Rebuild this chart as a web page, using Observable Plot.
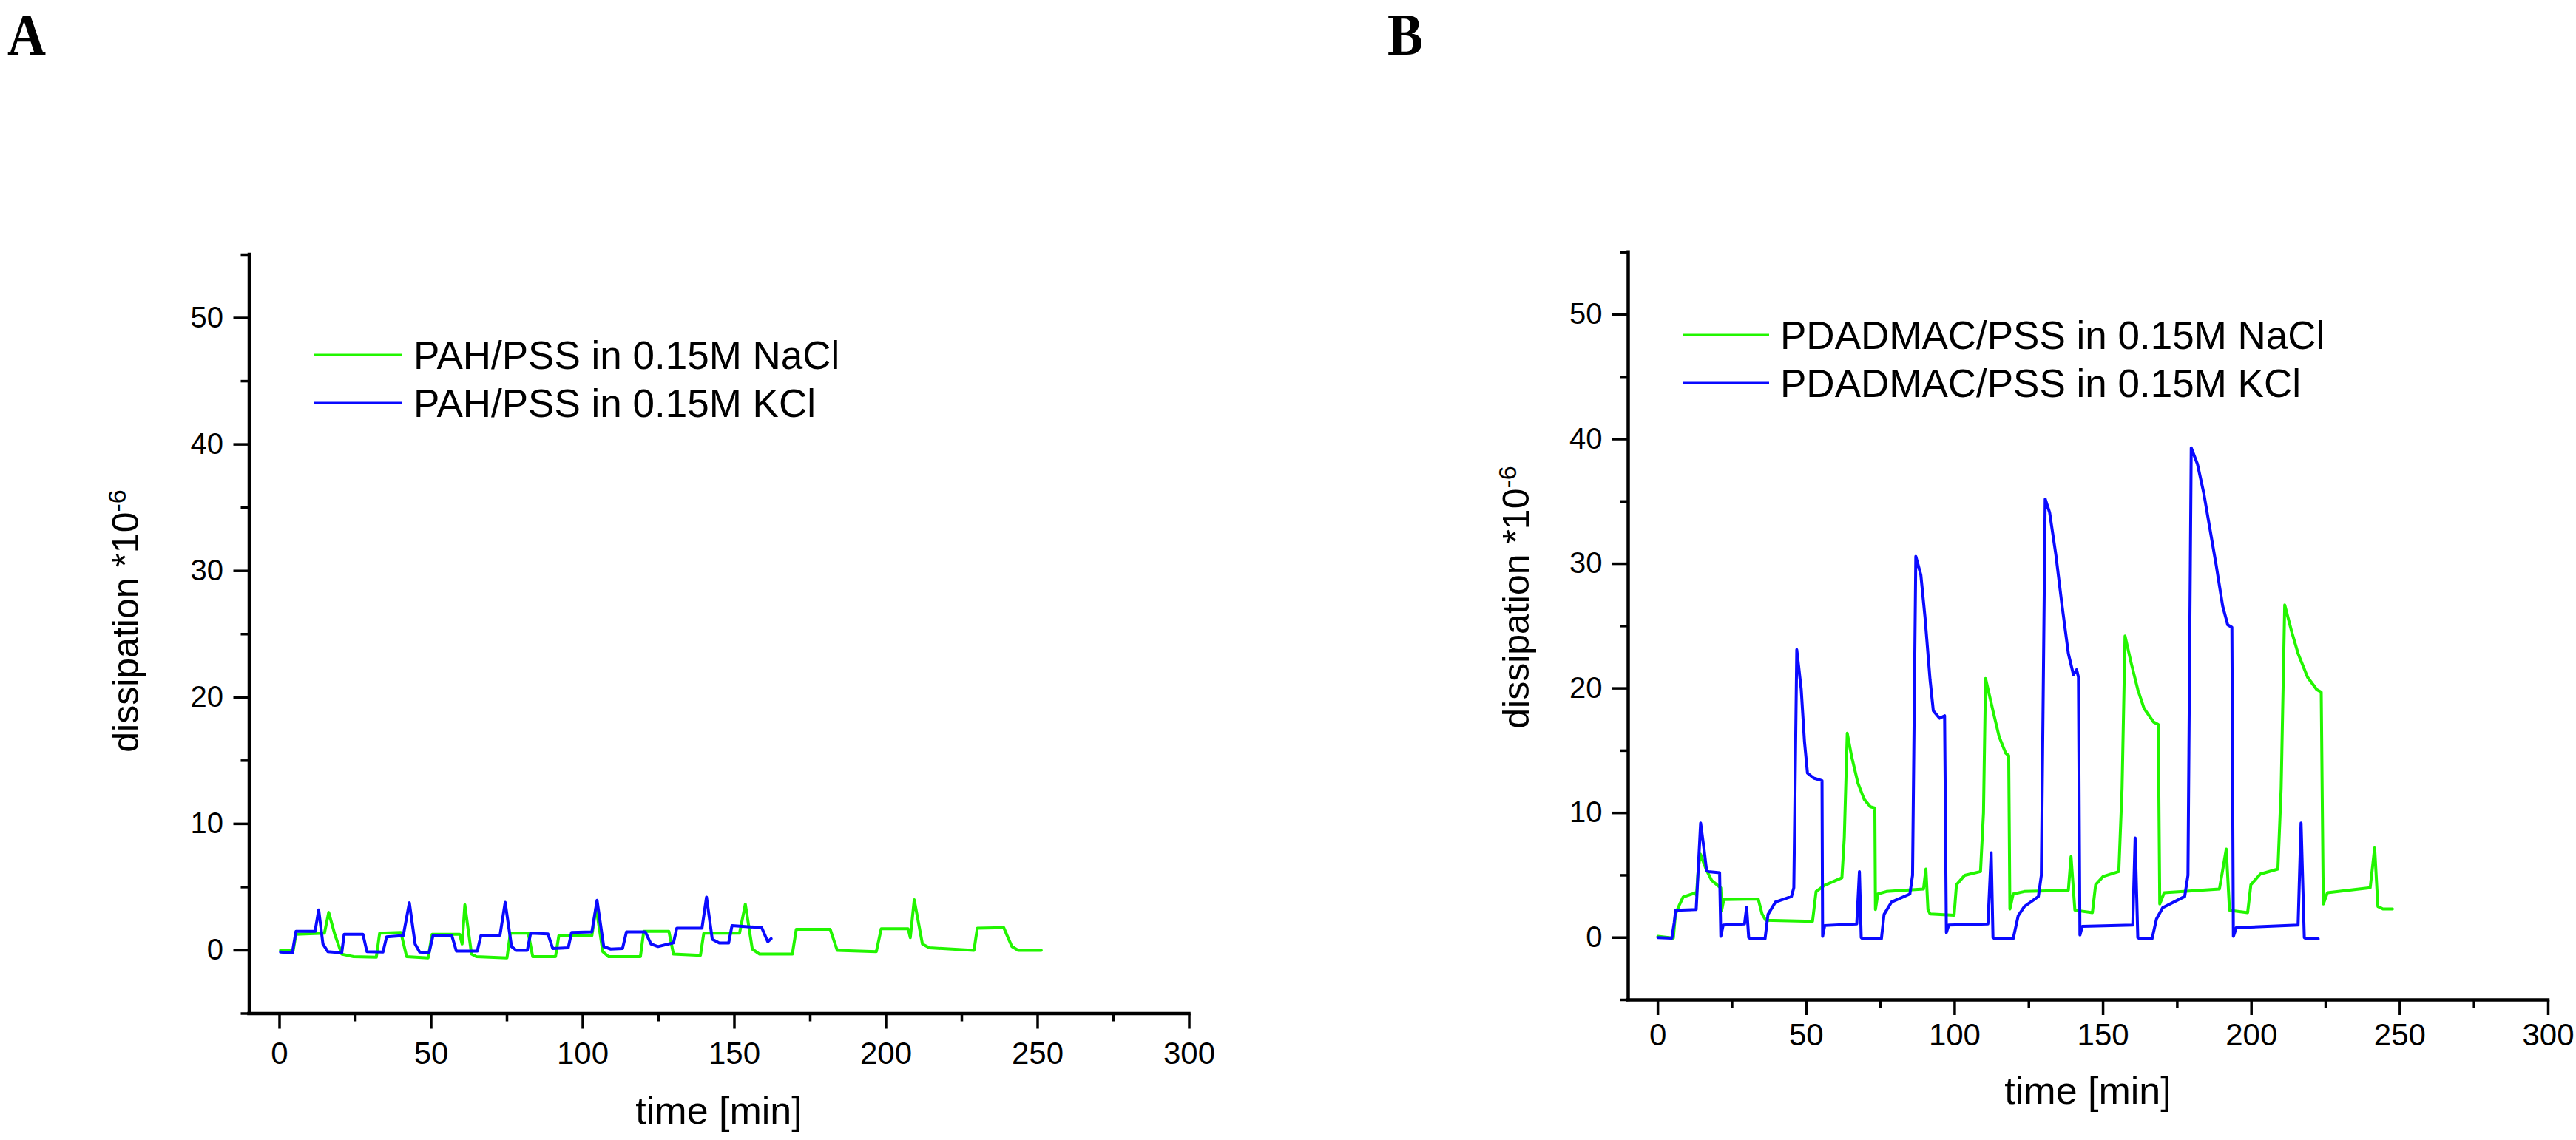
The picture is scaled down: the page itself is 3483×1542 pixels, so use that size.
<!DOCTYPE html>
<html>
<head>
<meta charset="utf-8">
<script src="https://cdn.jsdelivr.net/npm/d3@7"></script>
<script src="https://cdn.jsdelivr.net/npm/@observablehq/plot@0.6"></script>
<style>
  html, body { margin: 0; padding: 0; background: #fff; }
  #page { position: relative; width: 3483px; height: 1542px; overflow: hidden; background: #fff; }
  #pa, #pb { position: absolute; top: 0; }
  #pa { left: 0; }
  #pb { left: 1742px; }
</style>
</head>
<body>
<div id="page"><div id="pa"></div><div id="pb"></div></div>
<script>
// ---------- data ----------
const panelLetters = ["A", "B"];
const seriesNames = ["NaCl", "KCl"];
const seriesColors = ["#22f500", "#0a0aff"];
const legendA = ["PAH/PSS in 0.15M NaCl", "PAH/PSS in 0.15M KCl"];
const legendB = ["PDADMAC/PSS in 0.15M NaCl", "PDADMAC/PSS in 0.15M KCl"];
const xTitle = "time [min]";
const yTitle = "dissipation *10";
const yTitleSup = "-6";

const xDomain = [-10, 300];
const yDomain = [-5, 55];
const xMajor = [0, 50, 100, 150, 200, 250, 300];
const xMinor = [25, 75, 125, 175, 225, 275];
const yMajor = [0, 10, 20, 30, 40, 50];
const yMinor = [-5, 5, 15, 25, 35, 45, 55];

// Panel A, PAH/PSS in NaCl
const tA_NaCl = [0.3,4.5,5.4,14.8,16.2,18.2,20.5,24.4,31.9,33.0,40.0,41.9,49.0,50.3,59.4,60.2,61.1,63.3,64.9,75.0,76.1,82.0,83.5,91.0,92.1,103.0,104.4,106.6,108.5,119.0,120.1,128.4,129.9,138.8,139.9,151.7,153.6,155.9,158.3,169.1,170.4,181.6,183.9,196.8,198.4,207.3,208.0,209.3,212.0,214.3,229.0,230.1,238.8,241.5,243.6,251.2];
const vA_NaCl = [0.0,0.0,1.27,1.36,3.0,1.27,-0.3,-0.5,-0.55,1.36,1.42,-0.5,-0.6,1.27,1.27,0.5,3.6,-0.3,-0.5,-0.6,1.36,1.36,-0.5,-0.5,1.17,1.17,3.4,-0.1,-0.5,-0.5,1.5,1.5,-0.3,-0.4,1.36,1.36,3.65,0.1,-0.3,-0.3,1.66,1.66,0.0,-0.1,1.7,1.7,1.0,4.0,0.5,0.2,0.0,1.75,1.8,0.3,0.0,0.0];
// Panel A, PAH/PSS in KCl
const tA_KCl = [0.3,4.2,5.4,11.7,12.9,14.3,15.9,20.5,21.3,27.5,28.8,34.1,35.3,40.8,42.8,44.7,46.2,49.3,50.6,56.8,58.3,65.2,66.4,72.7,74.4,76.5,78.1,81.7,82.8,88.5,90.1,95.2,96.3,103.0,104.7,106.9,109.2,113.1,114.4,120.6,122.5,124.8,129.9,131.0,139.3,140.8,142.7,145.0,148.1,149.2,159.0,161.0,162.1];
const vA_KCl = [-0.14,-0.2,1.5,1.5,3.2,0.5,-0.1,-0.2,1.27,1.27,-0.1,-0.14,1.07,1.17,3.76,0.5,-0.14,-0.2,1.17,1.17,-0.06,-0.06,1.17,1.2,3.8,0.3,0.0,0.0,1.36,1.3,0.14,0.2,1.42,1.46,3.96,0.3,0.1,0.14,1.46,1.46,0.5,0.3,0.6,1.75,1.75,4.2,0.88,0.58,0.58,1.95,1.8,0.68,0.92];

// Panel B, PDADMAC/PSS in NaCl
const tB_NaCl = [0,5.2,5.9,7.2,8.5,12.6,13.0,13.6,14.3,16.4,18.1,20.6,21.2,21.5,22.2,33.8,35.1,36.3,52.1,53.3,56.2,62.0,62.8,63.8,65.3,67.4,69.5,71.6,73.1,73.3,74.1,77.0,89.5,90.3,91.0,91.7,99.8,100.6,103.4,108.7,109.7,110.4,112.9,115.0,117.2,118.2,118.6,119.7,123.5,138.3,139.2,140.5,146.4,147.5,150.0,155.3,156.4,157.4,159.5,161.7,163.8,167.0,168.6,169.1,170.6,189.2,191.5,192.6,198.7,199.8,203.0,208.9,210.0,211.2,213.6,215.7,218.9,222.0,223.5,224.2,225.6,240.0,241.5,242.6,244.3,247.5];
const vB_NaCl = [0.1,-0.05,1.86,2.6,3.25,3.6,3.4,5.5,6.7,5.4,4.6,4.1,4.0,2.2,3.05,3.1,1.9,1.4,1.3,3.7,4.2,4.8,8.0,16.4,14.5,12.4,11.1,10.5,10.4,2.25,3.5,3.7,3.9,5.5,2.25,1.9,1.8,4.25,5.0,5.3,10.0,20.8,18.2,16.1,14.8,14.6,2.3,3.5,3.7,3.8,6.5,2.2,2.0,4.25,4.9,5.3,12.0,24.2,22.0,19.9,18.4,17.3,17.1,2.7,3.6,3.9,7.1,2.2,2.0,4.25,5.1,5.5,12.0,26.7,24.5,22.8,20.9,19.9,19.7,2.7,3.6,4.0,7.2,2.5,2.3,2.3];
// Panel B, PDADMAC/PSS in KCl
const tB_KCl = [0,4.7,5.5,6.0,12.9,13.6,14.4,15.6,16.4,17.0,20.8,21.2,22.0,29.2,29.9,30.6,31.2,36.1,37.1,39.6,45.0,45.8,46.8,48.3,49.4,50.4,52.5,55.3,55.5,56.2,67.0,67.9,68.5,69.0,75.3,76.2,78.7,84.9,85.8,86.9,88.6,90.0,91.7,92.8,94.9,96.6,97.2,98.0,111.2,112.3,112.9,113.5,119.7,121.4,123.5,128.2,129.2,130.5,132.0,134.1,136.2,138.3,140.0,141.1,141.7,142.2,143.0,160.0,160.8,161.7,162.3,166.5,168.0,170.1,177.5,178.6,179.7,181.8,183.9,186.0,188.1,190.3,192.0,193.4,193.9,194.9,215.7,216.7,217.8,218.5,222.5];
const vB_KCl = [0,-0.05,1.2,2.2,2.25,5.5,9.2,7.0,5.4,5.3,5.2,0.1,1.0,1.1,2.45,0.0,-0.1,-0.1,1.86,2.85,3.3,4.0,23.1,19.9,15.7,13.2,12.8,12.6,0.1,0.97,1.1,5.3,0.0,-0.1,-0.1,1.86,2.85,3.5,5.0,30.6,29.1,25.7,20.7,18.2,17.6,17.8,0.4,1.0,1.1,6.8,0.0,-0.1,-0.1,1.75,2.5,3.3,5.0,35.2,34.1,30.7,26.6,22.8,21.1,21.5,20.9,0.2,0.9,1.0,8.0,0.0,-0.1,-0.1,1.5,2.4,3.3,5.0,39.3,38.0,35.7,32.8,29.9,26.6,25.1,24.9,0.1,0.8,1.0,9.2,0.0,-0.1,-0.1];

// ---------- build tables ----------
const rows = (t, v, s) => t.map((x, i) => ({t: x, v: v[i], s}));
const dataA = [...rows(tA_NaCl, vA_NaCl, seriesNames[0]), ...rows(tA_KCl, vA_KCl, seriesNames[1])];
const dataB = [...rows(tB_NaCl, vB_NaCl, seriesNames[0]), ...rows(tB_KCl, vB_KCl, seriesNames[1])];

const sansFont = "'Liberation Sans', Arial, Helvetica, sans-serif";
const serifFont = "'Liberation Serif', 'Times New Roman', serif";

function makePanel(cfg) {
  const chart = Plot.plot({
    width: cfg.width, height: 1542,
    marginLeft: cfg.ml, marginRight: cfg.mr, marginTop: cfg.mt, marginBottom: cfg.mb,
    style: {fontFamily: sansFont, background: "transparent", overflow: "visible"},
    x: {domain: xDomain},
    y: {domain: yDomain},
    color: {domain: seriesNames, range: seriesColors},
    marks: [
      Plot.line(cfg.data, {x: "t", y: "v", z: "s", stroke: "s", strokeWidth: 4, strokeLinejoin: "round"}),
      Plot.axisY(yMajor, {tickSize: 21, tickPadding: 14, fontSize: 40, strokeWidth: 3.5, label: null, tickFormat: d => String(d)}),
      Plot.axisY(yMinor, {tickSize: 11, strokeWidth: 3.5, label: null, tickFormat: () => ""}),
      Plot.axisX(xMajor, {tickSize: 21, tickPadding: cfg.xpad, fontSize: 42, strokeWidth: 3.5, label: null, tickFormat: d => String(d)}),
      Plot.axisX(xMinor, {tickSize: 11, strokeWidth: 3.5, label: null, tickFormat: () => ""}),
      Plot.ruleX(xDomain.slice(0, 1), {strokeWidth: 4.5, strokeLinecap: "square"}),
      Plot.ruleY(yDomain.slice(0, 1), {strokeWidth: 4.5, strokeLinecap: "square"})
    ]
  });
  const svg = d3.select(chart);
  // panel letter
  svg.append("text")
    .attr("transform", `translate(${cfg.letterX},74) scale(0.9,1)`)
    .attr("text-anchor", "start")
    .attr("font-family", serifFont).attr("font-weight", "bold").attr("font-size", 80)
    .attr("fill", "#000").text(cfg.letter);
  // x title
  svg.append("text")
    .attr("x", cfg.xtX).attr("y", cfg.xtY)
    .attr("text-anchor", "middle").attr("font-family", sansFont).attr("font-size", 52)
    .attr("fill", "#000").text(xTitle);
  // y title with superscript
  const yt = svg.append("text")
    .attr("transform", `translate(${cfg.ytX},${cfg.ytY}) rotate(-90)`)
    .attr("text-anchor", "middle").attr("font-family", sansFont).attr("font-size", 50)
    .attr("fill", "#000");
  yt.append("tspan").text(yTitle);
  yt.append("tspan").attr("dy", "-0.5em").attr("font-size", 34).text(yTitleSup);
  // legend
  cfg.legend.forEach((label, i) => {
    const y = cfg.legY[i];
    svg.append("line")
      .attr("x1", cfg.legX1).attr("x2", cfg.legX2).attr("y1", y).attr("y2", y)
      .attr("stroke", seriesColors[i]).attr("stroke-width", 3);
    svg.append("text")
      .attr("x", cfg.legTX).attr("y", y).attr("dy", "0.36em")
      .attr("text-anchor", "start")
      .attr("font-family", sansFont).attr("font-size", 53).attr("fill", "#000")
      .text(label);
  });
  return chart;
}

document.getElementById("pa").append(makePanel({
  data: dataA, width: 1742, ml: 336.5, mr: 134.5, mt: 344, mb: 171.5, xpad: 17,
  letter: panelLetters[0], letterX: 10,
  xtX: 972, xtY: 1520, ytX: 187, ytY: 840,
  legend: legendA, legY: [480, 545], legX1: 425, legX2: 543, legTX: 559
}));
document.getElementById("pb").append(makePanel({
  data: dataB, width: 1741, ml: 459, mr: 38, mt: 340.7, mb: 190, xpad: 11,
  letter: panelLetters[1], letterX: 1876 - 1742,
  xtX: 1081, xtY: 1493, ytX: 325, ytY: 808,
  legend: legendB, legY: [453, 518], legX1: 533, legX2: 650, legTX: 665
}));
</script>
</body>
</html>
